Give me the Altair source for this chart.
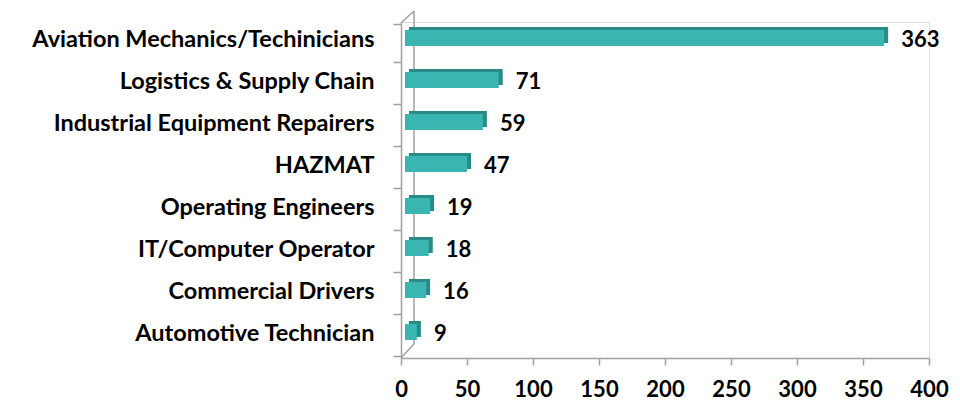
import altair as alt
import pandas as pd

categories = ["Aviation Mechanics/Techinicians", "Logistics & Supply Chain",
              "Industrial Equipment Repairers", "HAZMAT", "Operating Engineers",
              "IT/Computer Operator", "Commercial Drivers", "Automotive Technician"]
values = [363, 71, 59, 47, 19, 18, 16, 9]
x_ticks = [0, 50, 100, 150, 200, 250, 300, 350, 400]

df = pd.DataFrame({"cat": categories, "val": values})

FONT = "Lato"
W, H = 528, 336

y_enc = alt.Y("cat:N", sort=categories, title=None,
              axis=alt.Axis(labelFont=FONT, labelFontWeight="bold", labelFontSize=23.5,
                            labelColor="#000000", labelPadding=19, labelOffset=-4,
                            tickSize=8, tickColor="#a0a0a0", domainColor="#a0a0a0",
                            domainWidth=1.5, tickWidth=1.5, tickBand="extent",
                            labelLimit=500))
x_enc = alt.X("val:Q", title=None,
              scale=alt.Scale(domain=[0, 400], nice=False),
              axis=alt.Axis(values=x_ticks, labelFont=FONT, labelFontWeight="bold",
                            labelFontSize=22, labelColor="#000000", labelPadding=14,
                            labelFlush=False,
                            tickSize=7, tickColor="#a0a0a0", domainColor="#a0a0a0",
                            domainWidth=1.5, tickWidth=1.5, grid=False))

base = alt.Chart(df)

depth = base.mark_bar(size=16, color="#2a8a87", xOffset=8, x2Offset=8,
                      yOffset=-8, y2Offset=-8).encode(x=x_enc, y=y_enc)
front = base.mark_bar(size=16, color="#3bb5b1", xOffset=4, x2Offset=4,
                      yOffset=-5, y2Offset=-5).encode(x="val:Q", y=alt.Y("cat:N", sort=categories))
labels = base.mark_text(align="left", baseline="middle", dx=21, dy=-3,
                        font=FONT, fontWeight="bold", fontSize=22, color="#000000").encode(
    x="val:Q", y=alt.Y("cat:N", sort=categories), text="val:Q")

wall_style = dict(color="#a0a0a0", strokeWidth=1.5)
back_line = alt.Chart(pd.DataFrame({"v": [0]})).mark_rule(xOffset=13, x2Offset=13, **wall_style).encode(
    x=alt.X("v:Q"), y=alt.value(-11), y2=alt.value(H - 14))
top_diag = alt.Chart(pd.DataFrame({"v": [0]})).mark_rule(xOffset=0, x2Offset=13, **wall_style).encode(
    x=alt.X("v:Q"), x2=alt.X2("v"), y=alt.value(1), y2=alt.value(-11))
bot_diag = alt.Chart(pd.DataFrame({"v": [0]})).mark_rule(xOffset=0, x2Offset=13, **wall_style).encode(
    x=alt.X("v:Q"), x2=alt.X2("v"), y=alt.value(H), y2=alt.value(H - 14))

chart = alt.layer(back_line, top_diag, bot_diag, depth, front, labels).properties(
    width=W, height=H,
    autosize=alt.AutoSizeParams(type="none"),
    padding={"left": 393, "top": 14, "right": 23, "bottom": 44},
).configure_view(stroke=None).configure(background="#ffffff")

chart.save("out.html", embed_options={"renderer": "svg", "actions": False})
